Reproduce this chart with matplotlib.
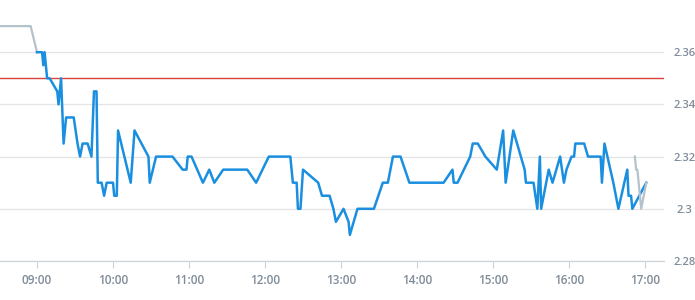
import matplotlib
matplotlib.use("Agg")
from matplotlib import pyplot as plt

# intraday price (blue) and out-of-session price (grey)
times = ["09:00", "09:04", "09:05", "09:06", "09:08", "09:10", "09:13", "09:16", "09:17", "09:19",
         "09:21", "09:23", "09:29", "09:32", "09:34", "09:36", "09:40", "09:43", "09:45", "09:47",
         "09:48", "09:51", "09:53", "09:55", "10:00", "10:01", "10:03", "10:04", "10:14", "10:17",
         "10:28", "10:29", "10:34", "10:47", "10:55", "10:58", "10:59", "11:02", "11:11", "11:16",
         "11:20", "11:27", "11:46", "11:53", "12:03", "12:20", "12:22", "12:25", "12:26", "12:28",
         "12:30", "12:42", "12:45", "12:51", "12:54", "12:56", "13:02", "13:06", "13:07", "13:13",
         "13:26", "13:33", "13:37", "13:41", "13:47", "13:54", "14:21", "14:28", "14:29", "14:32",
         "14:42", "14:44", "14:48", "14:54", "15:03", "15:08", "15:10", "15:16", "15:25", "15:26",
         "15:32", "15:35", "15:37", "15:38", "15:44", "15:47", "15:53", "15:56", "15:58", "16:02",
         "16:04", "16:05", "16:12", "16:15", "16:25", "16:26", "16:28", "16:35", "16:39", "16:46",
         "16:47", "16:49", "16:50", "17:01"]
prices = [2.36, 2.36, 2.355, 2.36, 2.35, 2.35, 2.3475, 2.345, 2.34, 2.35,
          2.325, 2.335, 2.335, 2.325, 2.32, 2.325, 2.325, 2.32, 2.345, 2.345,
          2.31, 2.31, 2.305, 2.31, 2.31, 2.305, 2.305, 2.33, 2.31, 2.33,
          2.32, 2.31, 2.32, 2.32, 2.315, 2.315, 2.32, 2.32, 2.31, 2.315,
          2.31, 2.315, 2.315, 2.31, 2.32, 2.32, 2.31, 2.31, 2.30, 2.30,
          2.315, 2.31, 2.305, 2.305, 2.30, 2.295, 2.30, 2.295, 2.29, 2.30,
          2.30, 2.31, 2.31, 2.32, 2.32, 2.31, 2.31, 2.315, 2.31, 2.31,
          2.32, 2.325, 2.325, 2.32, 2.315, 2.33, 2.31, 2.33, 2.315, 2.31,
          2.31, 2.30, 2.32, 2.30, 2.315, 2.31, 2.32, 2.31, 2.315, 2.32,
          2.32, 2.325, 2.325, 2.32, 2.32, 2.31, 2.325, 2.31, 2.30, 2.315,
          2.305, 2.305, 2.30, 2.31]

pre_times = ["08:31", "08:55", "09:00"]
pre_prices = [2.37, 2.37, 2.36]
post_times = ["16:52", "16:53", "16:54", "16:57", "17:01"]
post_prices = [2.32, 2.315, 2.315, 2.30, 2.31]

ref_price = 2.35
yticks = [2.28, 2.30, 2.32, 2.34, 2.36]
ytick_labels = ["2.28", "2.3", "2.32", "2.34", "2.36"]
xtick_labels = ["09:00", "10:00", "11:00", "12:00", "13:00", "14:00", "15:00", "16:00", "17:00"]


def to_min(t):
    h, m = t.split(":")
    return int(h) * 60 + int(m)


plt.rcParams['font.family'] = ['Open Sans', 'DejaVu Sans']

fig = plt.figure(figsize=(6.95, 3.0), dpi=100)
ax = fig.add_axes([0, 0.13, 664 / 695, 0.87])

ax.plot([to_min(t) for t in pre_times], pre_prices, color='#b4c2cc', lw=1.6)
ax.plot([to_min(t) for t in times], prices, color='#1a8fe0', lw=1.8, zorder=3)
ax.plot([to_min(t) for t in post_times], post_prices, color='#b4c2cc', lw=1.6, zorder=4)
ax.axhline(ref_price, color='#d9453a', lw=1.0, zorder=2)

ax.set_xlim(510.8, 1035)
ax.set_ylim(2.28, 2.38)

ax.set_yticks(yticks)
ax.set_yticklabels(ytick_labels)
ax.set_xticks([to_min(t) for t in xtick_labels])
ax.set_xticklabels(xtick_labels)

ax.yaxis.tick_right()
ax.grid(axis='y', color='#e2e4e6', lw=0.9)
ax.tick_params(axis='y', length=0, pad=15, labelsize=8, labelcolor='#7f8c99')
ax.tick_params(axis='x', length=5, color='#c8d0d8', pad=4, labelsize=8.5, labelcolor='#7f8c99')
for lab in ax.get_xticklabels() + ax.get_yticklabels():
    lab.set_fontweight('semibold')
for lab in ax.get_yticklabels():
    lab.set_horizontalalignment('center')

for side in ['top', 'left', 'right']:
    ax.spines[side].set_visible(False)
ax.spines['bottom'].set_color('#c8d0d8')

fig.savefig('out.png', dpi=100)
